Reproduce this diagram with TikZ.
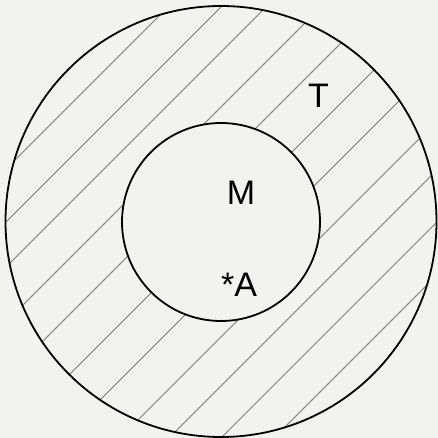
\documentclass[tikz,border=0pt]{standalone}
\usepackage{fontspec}
\setmainfont{Liberation Sans}
\definecolor{fondo}{HTML}{F4F2EE}
\definecolor{rayado}{HTML}{7A7A7A}
\tikzset{
    etiqueta/.style={font=\fontsize{34}{40}\selectfont, text=black},
    borde/.style={draw=black, line width=1.8pt}
}
\begin{document}
\begin{tikzpicture}[x=1pt, y=-1pt]
    % Fondo
    \fill[fondo] (0,0) rectangle (438,438);
    \useasboundingbox (0,0) rectangle (438,438);

    % Rayado dentro del circulo exterior
    \begin{scope}
        \clip (221,221.5) circle (215.5);
        \foreach \c in {175,228,273,328,384,444,500,558,607,659,712}
            \draw[rayado, line width=0.8pt] (\c+20,-20) -- (-20,\c+20);
    \end{scope}

    % Circulos
    \draw[borde] (221,221.5) circle (215.5);
    \filldraw[borde, fill=fondo] (221,222) circle (99);

    % Letras
    \node[etiqueta] (T) at (318.5,96) {T};
    \node[etiqueta] (M) at (241,193) {M};
    \node[etiqueta] (A) at (239,285) {*A};
\end{tikzpicture}
\end{document}
